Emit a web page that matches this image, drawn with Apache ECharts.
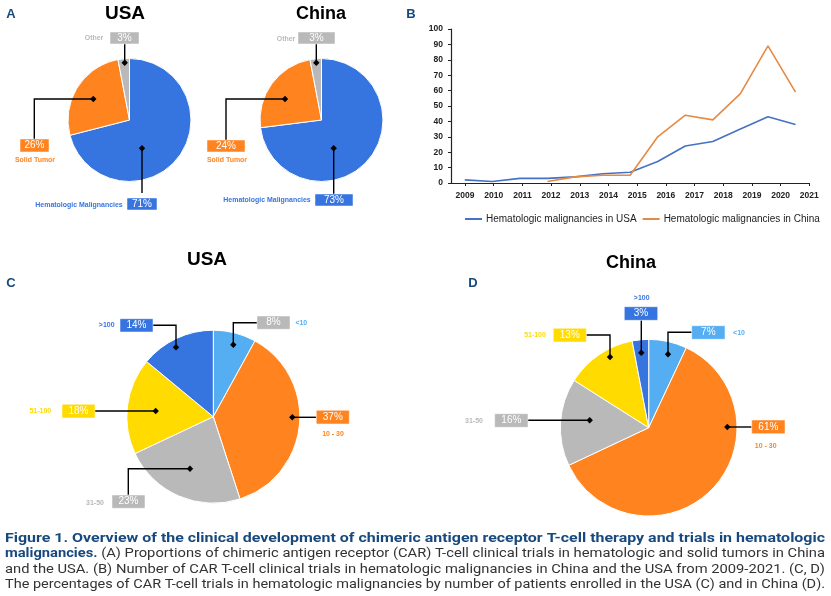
<!DOCTYPE html>
<html>
<head>
<meta charset="utf-8">
<style>
  html, body { margin: 0; padding: 0; background: #fff; }
  #main { width: 831px; height: 596px; }
</style>
<script src="https://cdn.jsdelivr.net/npm/echarts@6/dist/echarts.min.js"></script>
</head>
<body>
<div id="main"></div>
<script>
// panel A
var tumorNames = ['Hematologic Malignancies', 'Solid Tumor', 'Other']
var tumorUSA = [71, 26, 3]
var tumorChina = [73, 24, 3]
// panel B
var years = ['2009', '2010', '2011', '2012', '2013', '2014', '2015', '2016', '2017', '2018', '2019', '2020', '2021']
var trialsUSA = [2, 1, 3, 3, 4, 6, 7, 14, 24, 27, 35, 43, 38]
var trialsChina = [null, null, null, 1, 4, 5, 5, 30, 44, 41, 58, 89, 59]
var lineNames = ['Hematologic malignancies in USA', 'Hematologic malignancies in China']
// panels C, D
var sizeNames = ['<10', '10 - 30', '31-50', '51-100', '>100']
var sizeUSA = [8, 37, 23, 18, 14]
var sizeChina = [7, 61, 16, 13, 3]

var BLUE = '#3674e0', ORANGE = '#ff8420', GRAY = '#b9b9b9', YELLOW = '#ffdb00', SKY = '#55aef2'
var tumorColors = [BLUE, ORANGE, GRAY]
var sizeColors = [SKY, ORANGE, GRAY, YELLOW, BLUE]

var captionLines = [
  [['b', 'Figure 1. Overview of the clinical development of chimeric antigen receptor T-cell therapy and trials in hematologic']],
  [['b', 'malignancies.'], ['r', ' (A) Proportions of chimeric antigen receptor (CAR) T-cell clinical trials in hematologic and solid tumors in China']],
  [['r', 'and the USA. (B) Number of CAR T-cell clinical trials in hematologic malignancies in China and the USA from 2009-2021. (C, D)']],
  [['r', 'The percentages of CAR T-cell trials in hematologic malignancies by number of patients enrolled in the USA (C) and in China (D).']]
]

var myChart = echarts.init(document.getElementById('main'))

function pie(center, r, names, values, colors) {
  return {
    type: 'pie',
    center: center,
    radius: r,
    startAngle: 90,
    silent: true,
    animation: false,
    label: { show: false },
    labelLine: { show: false },
    itemStyle: { borderColor: '#fff', borderWidth: 1 },
    data: values.map(function (v, i) {
      return { name: names[i], value: v, itemStyle: { color: colors[i] } }
    })
  }
}

var graphics = []

// box with the percentage, its name beside it and an elbow line ending in a diamond
function callout(c) {
  var end = c.line[c.line.length - 1]
  graphics.push({
    type: 'polyline', z: 20, silent: true,
    shape: { points: c.line },
    style: { stroke: '#000', lineWidth: 1.4, fill: null }
  })
  graphics.push({
    type: 'polygon', z: 21, silent: true,
    shape: { points: [[end[0], end[1] - 3.2], [end[0] + 3.2, end[1]], [end[0], end[1] + 3.2], [end[0] - 3.2, end[1]]] },
    style: { fill: '#000' }
  })
  graphics.push({
    type: 'rect', z: 22, silent: true,
    shape: { x: c.box[0], y: c.box[1], width: c.box[2] - c.box[0], height: c.box[3] - c.box[1] },
    style: { fill: c.boxColor, stroke: '#fff', lineWidth: 0.5 }
  })
  graphics.push({
    type: 'text', z: 23, silent: true,
    x: (c.box[0] + c.box[2]) / 2, y: (c.box[1] + c.box[3]) / 2,
    style: { text: c.value + '%', fill: '#fff', font: '10px "Liberation Sans"', align: 'center', verticalAlign: 'middle' }
  })
  graphics.push({
    type: 'text', z: 23, silent: true,
    x: c.label[0], y: c.label[1],
    originX: 0, originY: 0, scaleX: 0.87,
    style: { text: c.name, fill: c.nameColor, font: 'bold 8px "Liberation Sans"', align: 'center', verticalAlign: 'middle' }
  })
}

// panel A callouts
callout({ name: tumorNames[2], value: tumorUSA[2], label: [94, 38], box: [110, 32, 139, 44], boxColor: GRAY, nameColor: GRAY, line: [[124.7, 44], [124.7, 62.7]] })
callout({ name: tumorNames[1], value: tumorUSA[1], label: [35, 160], box: [20, 139, 49, 152], boxColor: ORANGE, nameColor: ORANGE, line: [[34.3, 139], [34.3, 99], [93.3, 99]] })
callout({ name: tumorNames[0], value: tumorUSA[0], label: [79, 205], box: [127, 198, 157, 210], boxColor: BLUE, nameColor: BLUE, line: [[142, 193], [142, 148.3]] })
callout({ name: tumorNames[2], value: tumorChina[2], label: [286, 38.7], box: [298, 32, 335, 44], boxColor: GRAY, nameColor: GRAY, line: [[316.3, 44], [316.3, 62.7]] })
callout({ name: tumorNames[1], value: tumorChina[1], label: [227, 160], box: [207, 140, 245, 152], boxColor: ORANGE, nameColor: ORANGE, line: [[226, 140], [226, 99], [285, 99]] })
callout({ name: tumorNames[0], value: tumorChina[0], label: [267, 200], box: [315, 194, 353, 206], boxColor: BLUE, nameColor: BLUE, line: [[333.7, 194], [333.7, 148.3]] })
// panel C callouts
callout({ name: sizeNames[4], value: sizeUSA[4], label: [106.7, 324.7], box: [120, 318.7, 153, 332], boxColor: BLUE, nameColor: BLUE, line: [[152.7, 325.3], [176, 325.3], [176, 347.3]] })
callout({ name: sizeNames[0], value: sizeUSA[0], label: [301.3, 322.7], box: [257, 316, 290, 329.3], boxColor: GRAY, nameColor: SKY, line: [[257, 322.7], [233.3, 322.7], [233.3, 344.7]] })
callout({ name: sizeNames[1], value: sizeUSA[1], label: [333, 433.7], box: [316.3, 410.3, 349.3, 424], boxColor: ORANGE, nameColor: ORANGE, line: [[316.3, 417.3], [292.3, 417.3]] })
callout({ name: sizeNames[3], value: sizeUSA[3], label: [40.3, 411], box: [62, 404.3, 95, 418], boxColor: YELLOW, nameColor: YELLOW, line: [[95, 411], [155.7, 411]] })
callout({ name: sizeNames[2], value: sizeUSA[2], label: [95, 503], box: [112, 495, 145, 508.3], boxColor: GRAY, nameColor: GRAY, line: [[128.3, 495], [128.3, 468.7], [190, 468.7]] })
// panel D callouts
callout({ name: sizeNames[4], value: sizeChina[4], label: [641.7, 297.3], box: [624.3, 306.7, 657.7, 320.3], boxColor: BLUE, nameColor: BLUE, line: [[641.3, 320.3], [641.3, 352.7]] })
callout({ name: sizeNames[0], value: sizeChina[0], label: [739, 332.7], box: [691.7, 325.7, 725, 339.3], boxColor: SKY, nameColor: SKY, line: [[691.7, 332.3], [668, 332.3], [668, 354.3]] })
callout({ name: sizeNames[3], value: sizeChina[3], label: [535, 335], box: [553.3, 328.3, 586.3, 342], boxColor: YELLOW, nameColor: YELLOW, line: [[586.3, 335], [610, 335], [610, 357]] })
callout({ name: sizeNames[2], value: sizeChina[2], label: [474, 420.3], box: [494.7, 413.7, 528, 427.3], boxColor: GRAY, nameColor: GRAY, line: [[528, 420.3], [589.7, 420.3]] })
callout({ name: sizeNames[1], value: sizeChina[1], label: [765.7, 445.7], box: [751.7, 420, 785, 433.7], boxColor: ORANGE, nameColor: ORANGE, line: [[751.7, 427], [727.3, 427]] })

// caption, each line stretched to the full text width like the justified original
var measure = document.createElement('canvas').getContext('2d')
var captionFont = { b: 'bold 13.5px Roboto', r: '13.5px Roboto' }
captionLines.forEach(function (runs, i) {
  var w = 0
  var text = ''
  runs.forEach(function (run) {
    measure.font = captionFont[run[0]]
    w += measure.measureText(run[1]).width
    text += '{' + run[0] + '|' + run[1] + '}'
  })
  graphics.push({
    type: 'text', silent: true,
    x: 5, y: [539, 554, 570, 585][i],
    scaleX: 820 / w,
    style: {
      text: text,
      verticalAlign: 'middle',
      rich: {
        b: { font: captionFont.b, fill: '#17497f' },
        r: { font: captionFont.r, fill: '#333' }
      }
    }
  })
})

function heading(text, x, y, size) {
  return { text: text, left: x, top: y, padding: 0, textAlign: 'center', textVerticalAlign: 'middle',
    textStyle: { color: '#000', fontFamily: 'Liberation Sans', fontWeight: 'bold', fontSize: size } }
}
function letter(text, x, y) {
  return { text: text, left: x, top: y, padding: 0, textAlign: 'center', textVerticalAlign: 'middle',
    textStyle: { color: '#17497f', fontFamily: 'Liberation Sans', fontWeight: 'bold', fontSize: 13 } }
}

var option = {
  backgroundColor: '#fff',
  animation: false,
  title: [
    heading('USA', 125, 14, 19), heading('China', 321, 14, 18),
    heading('USA', 207, 260, 19), heading('China', 631, 263, 18),
    letter('A', 11, 14), letter('B', 411, 14), letter('C', 11, 283), letter('D', 473, 283)
  ],
  legend: {
    left: 465, top: 214, padding: 0,
    itemWidth: 17, itemHeight: 2, itemGap: 6, icon: 'rect',
    textStyle: { fontFamily: 'Liberation Sans', fontSize: 10, color: '#222', padding: [0, 0, 0, -1] },
    data: lineNames
  },
  grid: [
    { left: 451, right: 21.7, top: 29, height: 154 },
    { left: 465, right: 21.7, top: 29, height: 154 }
  ],
  xAxis: [
    {
      type: 'category', gridIndex: 0, data: years,
      axisLine: { lineStyle: { color: '#222', width: 1.2 } },
      axisTick: { show: false },
      axisLabel: { show: false }
    },
    {
      // years and their ticks sit on their own even spacing in the original, not under the points
      type: 'category', gridIndex: 1, data: years, boundaryGap: false,
      axisLine: { lineStyle: { color: '#222', width: 1.2 } },
      axisTick: { show: true, length: 3, lineStyle: { color: '#222' } },
      axisLabel: { interval: 0, margin: 8, color: '#222', fontFamily: 'Liberation Sans', fontWeight: 'bold', fontSize: 8.5 }
    }
  ],
  yAxis: [
    {
      type: 'value', gridIndex: 0, min: 0, max: 100, interval: 10,
      splitLine: { show: false },
      axisLine: { show: true, lineStyle: { color: '#222', width: 1.2 } },
      axisTick: { show: true, length: 3, lineStyle: { color: '#222' } },
      axisLabel: { margin: 8, color: '#222', fontFamily: 'Liberation Sans', fontWeight: 'bold', fontSize: 8.5 }
    },
    { type: 'value', gridIndex: 1, min: 0, max: 100, show: false }
  ],
  series: [
    pie([129.5, 120], 61.5, tumorNames, tumorUSA, tumorColors),
    pie([321.5, 120], 61.5, tumorNames, tumorChina, tumorColors),
    pie([213.3, 416.7], 86.5, sizeNames, sizeUSA, sizeColors),
    pie([648.7, 427.7], 88.3, sizeNames, sizeChina, sizeColors),
    {
      name: lineNames[0], type: 'line', xAxisIndex: 0, yAxisIndex: 0, data: trialsUSA,
      symbol: 'none', silent: true, animation: false,
      itemStyle: { color: '#4472c4' }, lineStyle: { color: '#4472c4', width: 1.6 }
    },
    {
      name: lineNames[1], type: 'line', xAxisIndex: 0, yAxisIndex: 0, data: trialsChina,
      symbol: 'none', silent: true, animation: false,
      itemStyle: { color: '#e58a45' }, lineStyle: { color: '#e58a45', width: 1.6 }
    }
  ],
  graphic: graphics
}
myChart.setOption(option)
</script>
</body>
</html>
